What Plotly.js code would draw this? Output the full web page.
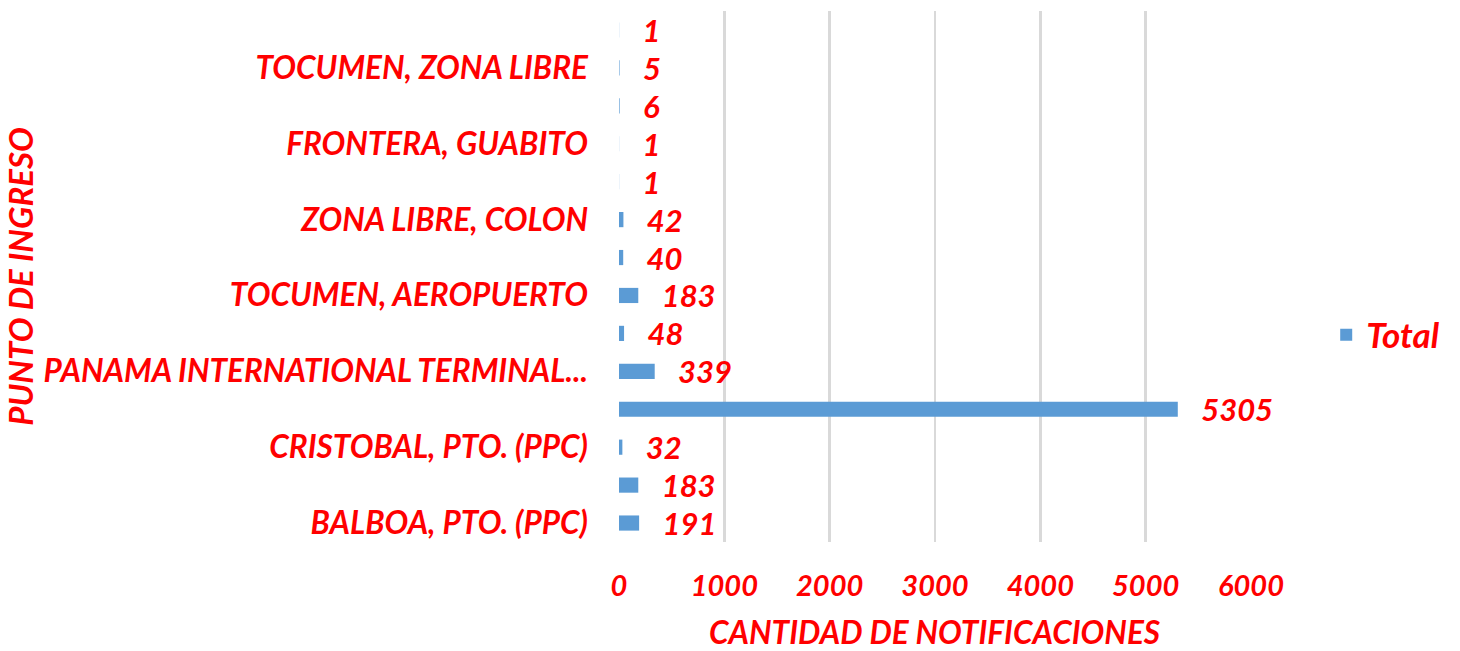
<!DOCTYPE html>
<html>
<head>
<meta charset="utf-8">
<script src="https://cdn.plot.ly/plotly-3.0.1.min.js"></script>
<style>html,body{margin:0;padding:0;background:#fff;}#chart{width:1460px;height:651px;}</style>
</head>
<body>
<div id="chart"></div>
<script>
// Categories from bottom to top; names of the unlabelled rows are not shown in the picture
const categories = [
  "BALBOA, PTO. (PPC)",
  "(sin etiqueta 1)",
  "CRISTOBAL, PTO. (PPC)",
  "(sin etiqueta 2)",
  "PANAMA INTERNATIONAL TERMINAL...",
  "(sin etiqueta 3)",
  "TOCUMEN, AEROPUERTO",
  "(sin etiqueta 4)",
  "ZONA LIBRE, COLON",
  "(sin etiqueta 5)",
  "FRONTERA, GUABITO",
  "(sin etiqueta 6)",
  "TOCUMEN, ZONA LIBRE",
  "(sin etiqueta 7)"
];
const totals = [191, 183, 32, 5305, 339, 48, 183, 40, 42, 1, 1, 6, 5, 1];
const shownLabels = categories.filter((c, i) => i % 2 === 0);
const xTicks = [0, 1000, 2000, 3000, 4000, 5000, 6000];
const xTitle = "CANTIDAD DE NOTIFICACIONES";
const yTitle = "PUNTO DE INGRESO";

const red = "#ff0000";
const fam = "Lato, 'Open Sans', sans-serif";
const f = (size) => ({family: fam, size: size, color: red, weight: "bold", style: "italic"});

const trace = {
  type: "bar",
  orientation: "h",
  name: "Total",
  y: categories,
  x: totals,
  marker: {color: "#5b9bd5"},
  text: totals.map(v => "\u00a0\u00a0\u00a0" + v),
  textposition: "outside",
  constraintext: "none",
  textfont: f(31),
  cliponaxis: false,
  hoverinfo: "x+y"
};

const layout = {
  width: 1460, height: 651,
  margin: {l: 619, r: 209, t: 11, b: 109},
  paper_bgcolor: "#fff", plot_bgcolor: "#fff",
  bargap: 0.6,
  showlegend: true,
  legend: {x: 1.119, y: 0.39, xanchor: "left", yanchor: "middle", font: f(35)},
  xaxis: {
    range: [0, 6000],
    tickvals: xTicks,
    ticktext: xTicks.map(String),
    showgrid: true, gridcolor: "#d9d9d9", gridwidth: 2.5,
    zeroline: false, showline: false,
    tickfont: f(29),
    ticks: "", ticklabelstandoff: 24,
    automargin: false
  },
  yaxis: {
    type: "category",
    categoryorder: "array", categoryarray: categories,
    tickvals: shownLabels, ticktext: shownLabels,
    showgrid: false, zeroline: false, showline: false,
    tickfont: f(31.5), ticks: "", ticklabelstandoff: 30,
    title: {text: yTitle, font: f(33), standoff: 0},
    automargin: false
  },
  annotations: [{
    text: xTitle, font: f(31.5), showarrow: false,
    xref: "paper", yref: "paper", x: 0.5, y: 0,
    xanchor: "center", yanchor: "middle", yshift: -90,
    borderpad: 0
  }]
};

Plotly.newPlot("chart", [trace], layout, {displayModeBar: false, staticPlot: true});
</script>
</body>
</html>
